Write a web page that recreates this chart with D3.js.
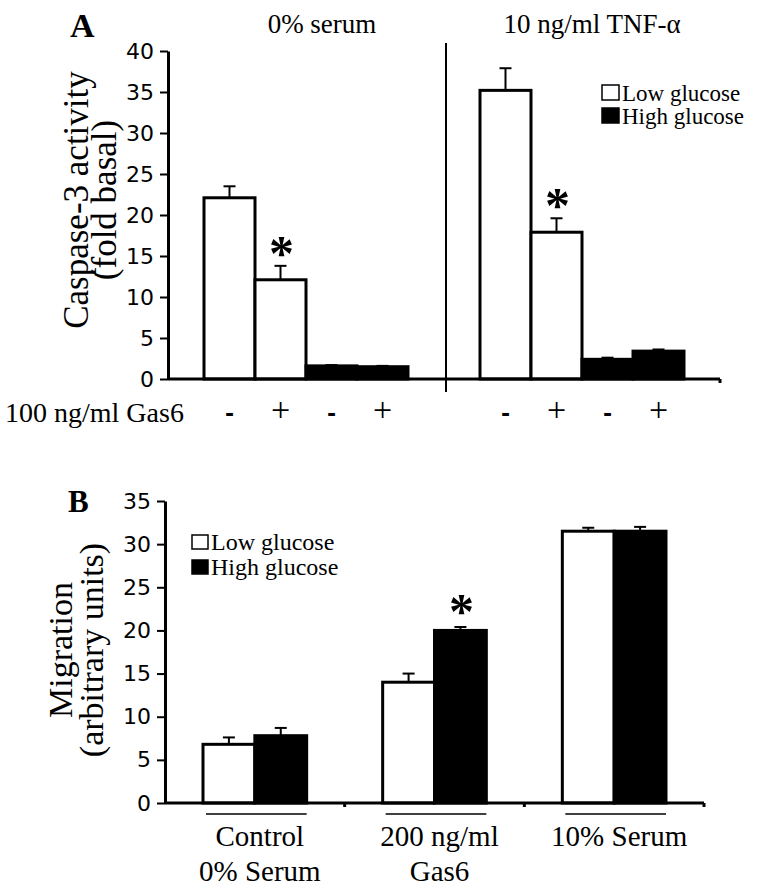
<!DOCTYPE html>
<html>
<head>
<meta charset="utf-8">
<script src="https://cdn.jsdelivr.net/npm/d3@7"></script>
<style>
  body { margin: 0; background: #fff; }
  svg { display: block; }
</style>
</head>
<body>
<figure id="chart" style="margin:0"></figure>
<script>
// ---- data: panel A (caspase-3) ----
const groupsA = ["0% serum", "10 ng/ml TNF-\u03b1"];
const gas6Signs = ["-", "+", "-", "+"];
const glucoseA = ["Low", "Low", "High", "High"];
const serumValues = [22.1, 12.1, 1.6, 1.5];
const serumErrors = [1.4, 1.7, 0.1, 0.1];
const tnfValues = [35.2, 17.9, 2.4, 3.4];
const tnfErrors = [2.7, 1.7, 0.2, 0.2];
const starsA = [[false, true, false, false], [false, true, false, false]];
const ticksA = [0, 5, 10, 15, 20, 25, 30, 35, 40];

// ---- data: panel B (migration) ----
const categoriesB = [["Control", "0% Serum"], ["200 ng/ml", "Gas6"], ["10% Serum"]];
const lowValues = [6.8, 14.0, 31.5];
const lowErrors = [0.8, 1.0, 0.4];
const highValues = [7.8, 20.0, 31.5];
const highErrors = [0.9, 0.4, 0.5];
const starsB = [false, true, false];
const ticksB = [0, 5, 10, 15, 20, 25, 30, 35];

const legendLabels = ["Low glucose", "High glucose"];

const serif = "'Liberation Serif', 'Times New Roman', serif";
const sans = "'DejaVu Sans', Verdana, sans-serif";

const svg = d3.select("#chart").append("svg")
  .attr("width", 760).attr("height", 892)
  .style("background", "#fff");

function fillFor(g) { return g === "Low" ? "#fff" : "#000"; }

function drawYAxis(scale, x, ticks) {
  const ax = svg.append("g")
    .attr("transform", `translate(${x},0)`)
    .call(d3.axisLeft(scale).tickValues(ticks).tickSize(8).tickSizeOuter(0).tickPadding(6));
  ax.select(".domain").attr("stroke-width", 3);
  ax.selectAll(".tick line").attr("stroke-width", 2);
  ax.selectAll("text").attr("font-family", sans).attr("font-size", 22).attr("fill", "#000");
}

function drawErrorBar(x, yTop, yErr) {
  svg.append("line").attr("x1", x).attr("x2", x).attr("y1", yTop).attr("y2", yErr)
    .attr("stroke", "#000").attr("stroke-width", 2);
  svg.append("line").attr("x1", x - 6).attr("x2", x + 6).attr("y1", yErr).attr("y2", yErr)
    .attr("stroke", "#000").attr("stroke-width", 2);
}

function drawStar(x, yCenter) {
  svg.append("text").attr("x", x).attr("y", yCenter + 18)
    .attr("text-anchor", "middle").attr("font-family", serif)
    .attr("font-size", 50).attr("font-weight", "bold").text("*");
}

function drawLegend(x, y, gap, size, fontSize) {
  legendLabels.forEach((label, i) => {
    svg.append("rect").attr("x", x).attr("y", y + i * gap - size + 1)
      .attr("width", size).attr("height", size - 2)
      .attr("fill", i === 0 ? "#fff" : "#000").attr("stroke", "#000").attr("stroke-width", 1.5);
    svg.append("text").attr("x", x + size + 3).attr("y", y + i * gap)
      .attr("font-family", serif).attr("font-size", fontSize).text(label);
  });
}

// ================= Panel A =================
const yA = d3.scaleLinear().domain([0, 40]).range([379, 51]);
const xGroupA = d3.scaleBand().domain(groupsA).range([168, 720]).padding(0);
const xBarA = d3.scaleBand().domain(d3.range(4)).range([36, xGroupA.bandwidth() - 36]).padding(0);

const seriesA = [
  { values: serumValues, errors: serumErrors },
  { values: tnfValues, errors: tnfErrors }
];

seriesA.forEach((s, gi) => {
  const gx = xGroupA(groupsA[gi]);
  s.values.forEach((v, i) => {
    svg.append("rect")
      .attr("x", gx + xBarA(i)).attr("y", yA(v))
      .attr("width", xBarA.bandwidth()).attr("height", yA(0) - yA(v))
      .attr("fill", fillFor(glucoseA[i])).attr("stroke", "#000").attr("stroke-width", 3);
  });
  s.values.forEach((v, i) => {
    const cx = gx + xBarA(i) + xBarA.bandwidth() / 2;
    drawErrorBar(cx, yA(v), yA(v + s.errors[i]));
    if (starsA[gi][i]) drawStar(cx + 1, yA(v + s.errors[i]) - 14);
    // Gas6 +/- row
    svg.append("text").attr("x", cx).attr("y", 421).attr("text-anchor", "middle")
      .attr("font-family", gas6Signs[i] === "+" ? serif : sans)
      .attr("font-weight", gas6Signs[i] === "+" ? "normal" : "bold")
      .attr("font-size", gas6Signs[i] === "+" ? 34 : 22)
      .text(gas6Signs[i]);
  });
  // group title
  svg.append("text").attr("x", gx + xGroupA.bandwidth() / 2 + (gi === 0 ? 16 : 10)).attr("y", 33)
    .attr("text-anchor", "middle").attr("font-family", serif).attr("font-size", 27)
    .text(groupsA[gi]);
});

// x axis A
svg.append("line").attr("x1", 168).attr("x2", 720).attr("y1", yA(0)).attr("y2", yA(0))
  .attr("stroke", "#000").attr("stroke-width", 3);
svg.append("line").attr("x1", 720).attr("x2", 720).attr("y1", yA(0)).attr("y2", yA(0) + 4)
  .attr("stroke", "#000").attr("stroke-width", 3);
// divider between treatments
const divX = xGroupA(groupsA[1]) + 2;
svg.append("line").attr("x1", divX).attr("x2", divX).attr("y1", 43).attr("y2", 392)
  .attr("stroke", "#000").attr("stroke-width", 2);

drawYAxis(yA, 168, ticksA);

svg.append("text").attr("x", 70).attr("y", 37)
  .attr("font-family", serif).attr("font-weight", "bold").attr("font-size", 34).text("A");

[["Caspase-3 activity", 88], ["(fold basal)", 116]].forEach(([t, bx]) => {
  svg.append("text").attr("transform", `translate(${bx},200) rotate(-90)`)
    .attr("text-anchor", "middle").attr("font-family", serif).attr("font-size", 35).text(t);
});

svg.append("text").attr("x", 5).attr("y", 422)
  .attr("font-family", serif).attr("font-size", 28).text("100 ng/ml Gas6");

drawLegend(602, 101, 23, 17, 23);

// ================= Panel B =================
const yB = d3.scaleLinear().domain([0, 35]).range([803, 501]);
const xB = d3.scaleBand().domain(d3.range(categoriesB.length)).range([165, 704]).padding(0);
const xSubB = d3.scaleBand().domain(["Low", "High"]).range([38, xB.bandwidth() - 38]).padding(0);

categoriesB.forEach((cat, i) => {
  const gx = xB(i);
  const bars = [
    { g: "Low", v: lowValues[i], e: lowErrors[i] },
    { g: "High", v: highValues[i], e: highErrors[i] }
  ];
  bars.forEach(b => {
    svg.append("rect")
      .attr("x", gx + xSubB(b.g)).attr("y", yB(b.v))
      .attr("width", xSubB.bandwidth()).attr("height", yB(0) - yB(b.v))
      .attr("fill", fillFor(b.g)).attr("stroke", "#000").attr("stroke-width", 3);
  });
  bars.forEach(b => {
    const cx = gx + xSubB(b.g) + xSubB.bandwidth() / 2;
    drawErrorBar(cx, yB(b.v), yB(b.v + b.e));
    if (starsB[i] && b.g === "High") drawStar(cx + 1, yB(b.v + b.e) - 17);
  });
  // underline + label
  svg.append("line").attr("x1", gx + xSubB("Low") + 3).attr("x2", gx + xSubB("High") + xSubB.bandwidth())
    .attr("y1", 814).attr("y2", 814).attr("stroke", "#000").attr("stroke-width", 1.5);
  cat.forEach((line, li) => {
    svg.append("text").attr("x", gx + xB.bandwidth() / 2 + 5).attr("y", 846 + li * 35)
      .attr("text-anchor", "middle").attr("font-family", serif).attr("font-size", 29).text(line);
  });
  // small tick at group boundary
  const bx = gx + xB.bandwidth();
  svg.append("line").attr("x1", bx).attr("x2", bx).attr("y1", yB(0)).attr("y2", yB(0) + 4)
    .attr("stroke", "#000").attr("stroke-width", 3);
});

svg.append("line").attr("x1", 165).attr("x2", 704).attr("y1", yB(0)).attr("y2", yB(0))
  .attr("stroke", "#000").attr("stroke-width", 3);

drawYAxis(yB, 165, ticksB);

svg.append("text").attr("x", 68).attr("y", 512)
  .attr("font-family", serif).attr("font-weight", "bold").attr("font-size", 31).text("B");

[["Migration", 72], ["(arbitrary units)", 103]].forEach(([t, bx]) => {
  svg.append("text").attr("transform", `translate(${bx},650) rotate(-90)`)
    .attr("text-anchor", "middle").attr("font-family", serif).attr("font-size", 34).text(t);
});

drawLegend(192, 550, 25, 16, 24);
</script>
</body>
</html>
